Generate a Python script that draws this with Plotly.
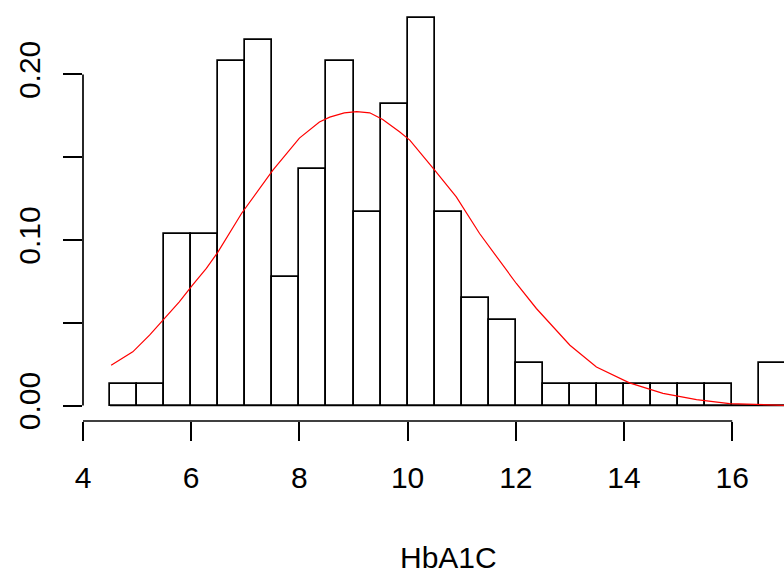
import plotly.graph_objects as go

# Histogram of HbA1C (R-style density histogram, bin width 0.5)
bin_edges = [4.5, 5.0, 5.5, 6.0, 6.5, 7.0, 7.5, 8.0, 8.5, 9.0, 9.5, 10.0, 10.5,
             11.0, 11.5, 12.0, 12.5, 13.0, 13.5, 14.0, 14.5, 15.0, 15.5, 16.0,
             16.5, 17.0]
counts = [1, 1, 8, 8, 16, 17, 6, 11, 16, 9, 14, 18, 9, 5, 4, 2, 1, 1, 1, 1, 1, 1, 1, 0, 2]

# red density curve
curve_x = [4.52, 4.92, 5.23, 5.49, 5.78, 6.02, 6.28, 6.49, 6.93, 7.51, 8.0, 8.37,
           8.56, 8.83, 9.06, 9.3, 9.54, 9.85, 10.04, 10.5, 10.9, 11.33, 11.7, 12.01,
           12.38, 12.63, 13.0, 13.49, 14.1, 14.72, 15.34, 15.95, 16.82, 17.0]
curve_y = [0.0243, 0.0324, 0.0425, 0.0521, 0.0626, 0.0725, 0.0828, 0.0925, 0.116,
           0.1422, 0.1615, 0.1712, 0.1742, 0.1768, 0.1775, 0.1768, 0.1728, 0.1653,
           0.1603, 0.1422, 0.126, 0.1039, 0.0878, 0.0737, 0.0586, 0.0495, 0.0364,
           0.0233, 0.0137, 0.0073, 0.0036, 0.0012, 0.0002, 0.0001]

x_ticks = [4, 6, 8, 10, 12, 14, 16]
y_ticks = [0.0, 0.05, 0.10, 0.15, 0.20]
y_ticktext = ["0.00", "", "0.10", "", "0.20"]
x_title = "HbA1C"

n = sum(counts)
widths = [b - a for a, b in zip(bin_edges[:-1], bin_edges[1:])]
mids = [(a + b) / 2 for a, b in zip(bin_edges[:-1], bin_edges[1:])]
density = [c / (n * w) for c, w in zip(counts, widths)]

FONT = "Liberation Sans, Arial, sans-serif"
FS = 30

fig = go.Figure()
fig.add_trace(go.Bar(
    x=mids, y=density, width=widths,
    marker=dict(color="white", line=dict(color="black", width=1.7)),
    showlegend=False, hoverinfo="x+y",
))
fig.add_trace(go.Scatter(
    x=curve_x, y=curve_y, mode="lines",
    line=dict(color="red", width=1.2, shape="linear"),
    showlegend=False,
))

# baseline under all bins (R draws zero-height rects as a line)
fig.add_shape(type="line", xref="x", yref="y", x0=bin_edges[0], x1=bin_edges[-1],
              y0=0, y1=0, line=dict(color="black", width=1.7), layer="below")
# R-style axis lines spanning only the tick range
fig.add_shape(type="line", xref="x", yref="paper", x0=x_ticks[0], x1=x_ticks[-1],
              y0=0, y1=0, line=dict(color="black", width=1.7))
fig.add_shape(type="line", xref="paper", yref="y", x0=0, x1=0,
              y0=y_ticks[0], y1=y_ticks[-1], line=dict(color="black", width=1.7))

ymax = max(density)
fig.update_layout(
    width=784, height=576,
    margin=dict(l=83, r=0, t=3, b=155),
    plot_bgcolor="white", paper_bgcolor="white",
    font=dict(family=FONT, size=FS, color="black"),
    bargap=0,
    xaxis=dict(range=[4.0, 16.957], showgrid=False, zeroline=False, showline=False,
               tickmode="array", tickvals=x_ticks, ticks="outside", ticklen=19,
               tickwidth=1.7, tickcolor="black", ticklabelstandoff=11,
               tickfont=dict(family=FONT, size=FS, color="black")),
    yaxis=dict(range=[-0.04 * ymax, ymax * 1.04], showgrid=False, zeroline=False,
               showline=False, tickmode="array", tickvals=y_ticks, ticktext=y_ticktext,
               ticks="outside", ticklen=19, tickwidth=1.7, tickcolor="black",
               tickangle=-90, ticklabelstandoff=11,
               tickfont=dict(family=FONT, size=FS, color="black")),
    annotations=[dict(text=x_title, xref="paper", yref="paper", x=0.5218, y=0,
                      yshift=-136, showarrow=False, xanchor="center", yanchor="middle",
                      font=dict(family=FONT, size=FS, color="black"))],
)

fig.write_html("out.html")
